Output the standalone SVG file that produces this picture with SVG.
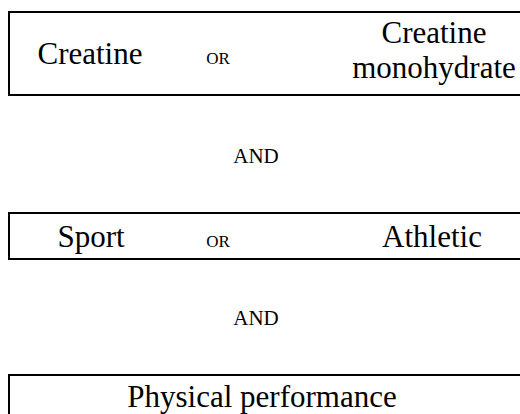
<svg xmlns="http://www.w3.org/2000/svg" width="520" height="414" viewBox="0 0 520 414">
  <style>
    .box { fill: #ffffff; stroke: #000000; stroke-width: 2; }
    text { font-family: "Liberation Serif", "Times New Roman", serif; fill: #000000; text-anchor: middle; }
    .term { font-size: 31px; }
    .op { font-size: 17px; }
    .join { font-size: 21px; }
  </style>
  <rect width="520" height="414" fill="#ffffff"/>

  <!-- first concept: creatine terms -->
  <g id="concept-creatine">
    <rect class="box" x="9" y="12" width="522" height="83"/>
    <text class="term" x="90" y="64">Creatine</text>
    <text class="op" x="218" y="64">OR</text>
    <text class="term" x="434" y="43">Creatine</text>
    <text class="term" x="434" y="78">monohydrate</text>
  </g>

  <g id="connectors">
    <text class="join" x="256" y="163">AND</text>
    <text class="join" x="256" y="325">AND</text>
  </g>

  <!-- second concept: sport terms -->
  <g id="concept-sport">
    <rect class="box" x="9" y="213" width="522" height="46"/>
    <text class="term" x="91" y="247">Sport</text>
    <text class="op" x="218" y="247">OR</text>
    <text class="term" x="432" y="247">Athletic</text>
  </g>

  <!-- third concept: outcome -->
  <g id="concept-performance">
    <rect class="box" x="9" y="375" width="522" height="60"/>
    <text class="term" x="262" y="407">Physical performance</text>
  </g>
</svg>
